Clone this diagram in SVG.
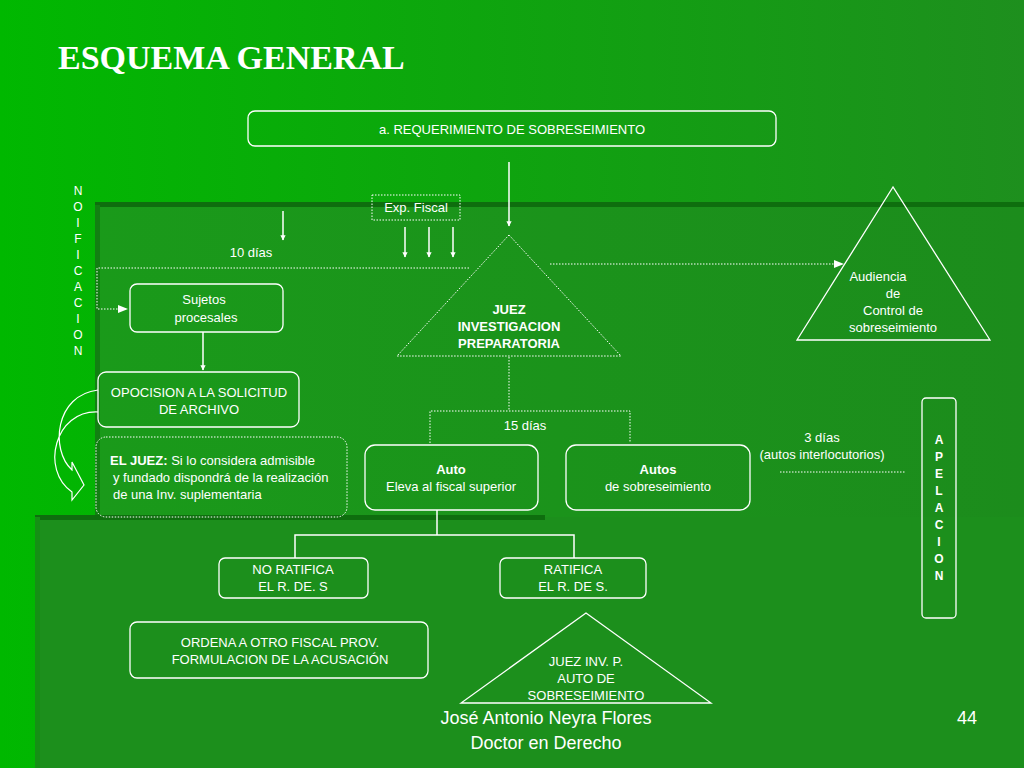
<svg xmlns="http://www.w3.org/2000/svg" width="1024" height="768" viewBox="0 0 1024 768">
<defs>
<linearGradient id="bg" x1="0" y1="0" x2="1" y2="0"><stop offset="0" stop-color="#00b800"/><stop offset="1" stop-color="#1e8f1e"/></linearGradient>
<linearGradient id="bg2" x1="0" y1="0" x2="1" y2="0"><stop offset="0" stop-color="#1a9a1a"/><stop offset="1" stop-color="#1c8c1c"/></linearGradient>
<marker id="ah" viewBox="0 0 10 10" refX="9" refY="5" markerWidth="3.5" markerHeight="4" orient="auto"><path d="M0,0 L10,5 L0,10 z" fill="#fff"/></marker>
</defs>
<style>
.t{font-family:"Liberation Sans",Arial,sans-serif;font-size:13px;fill:#fff;text-anchor:middle}
.s12{font-size:12px}
.s18{font-size:18px}
.b{font-weight:bold}
.box{fill:none;stroke:#fff;stroke-width:1.3}
.dot{fill:none;stroke:#fff;stroke-width:1;stroke-dasharray:1.5 1.5}
.ln{stroke:#fff;stroke-width:1.5;fill:none}
</style>
<rect width="1024" height="768" fill="url(#bg)"/>
<rect x="95" y="205" width="929" height="563" fill="url(#bg2)"/>
<rect x="95" y="202" width="929" height="5" fill="#0e6e0e"/>
<rect x="95" y="205" width="5" height="563" fill="#128012"/>
<rect x="35" y="517" width="989" height="251" fill="#1c8f1c"/>
<rect x="35" y="515" width="510" height="5" fill="#0e6e0e"/>
<rect x="35" y="517" width="5" height="251" fill="#159015"/>
<text x="58" y="69" font-family="Liberation Serif,serif" font-weight="bold" font-size="34" fill="#fff">ESQUEMA GENERAL</text>

<g id="connectors">
<line class="ln" x1="283" y1="211" x2="283" y2="240" marker-end="url(#ah)"/>
<line class="ln" x1="405" y1="227" x2="405" y2="257" marker-end="url(#ah)"/>
<line class="ln" x1="429" y1="227" x2="429" y2="257" marker-end="url(#ah)"/>
<line class="ln" x1="453" y1="227" x2="453" y2="257" marker-end="url(#ah)"/>
<line class="ln" x1="509" y1="162" x2="509" y2="226" marker-end="url(#ah)"/>
<path class="dot" d="M469,268 H97 V309 H126"/>
<path d="M118,305 L128,309 L118,313 z" fill="#fff"/>
<path class="dot" d="M550,264 H840"/>
<path d="M834,260 L844,264 L834,268 z" fill="#fff"/>
<line class="ln" x1="203" y1="332" x2="203" y2="370" marker-end="url(#ah)"/>
<path class="dot" d="M509,357 V411 M430,443 V411 H630 V443"/>
<path class="dot" d="M780,472 H905"/>
<path class="ln" d="M437,510 V535 M295,558 V535 H574 V558"/>
<path d="M98,390 C55,395 50,450 72,470 L72,462 L84,485 L72,500 L72,492 C40,470 55,410 98,412" fill="none" stroke="#fff" stroke-width="1.2"/>
</g>

<g id="n-req"><rect class="box" x="248" y="111" width="528" height="35" rx="7"/><text class="t" x="512" y="134">a. REQUERIMIENTO DE SOBRESEIMIENTO</text></g>
<g id="n-notif"><text class="t s12"><tspan x="78" y="195">N</tspan><tspan x="78" y="211">O</tspan><tspan x="78" y="227">I</tspan><tspan x="78" y="243">F</tspan><tspan x="78" y="259">I</tspan><tspan x="78" y="275">C</tspan><tspan x="78" y="291">A</tspan><tspan x="78" y="307">C</tspan><tspan x="78" y="323">I</tspan><tspan x="78" y="339">O</tspan><tspan x="78" y="355">N</tspan></text></g>
<g id="n-exp"><rect class="dot" x="372" y="195" width="88" height="25"/><text class="t" x="416" y="212">Exp. Fiscal</text></g>
<text class="t" x="251" y="257">10 días</text>
<g id="n-juez"><polygon class="dot" points="509,235 397,356 621,356"/><text class="t b" x="509" y="314">JUEZ</text><text class="t b" x="509" y="331">INVESTIGACION</text><text class="t b" x="509" y="348">PREPARATORIA</text></g>
<g id="n-aud"><polygon class="box" points="893,187 797,340 990,340"/><text class="t" x="878" y="281">Audiencia</text><text class="t" x="893" y="298">de</text><text class="t" x="893" y="315">Control de</text><text class="t" x="893" y="332">sobreseimiento</text></g>
<g id="n-suj"><rect class="box" x="130" y="284" width="153" height="48" rx="7"/><text class="t" x="204" y="304">Sujetos</text><text class="t" x="206" y="322">procesales</text></g>
<g id="n-opo"><rect class="box" x="98" y="372" width="201" height="55" rx="8"/><text class="t" x="199" y="397">OPOCISION A LA SOLICITUD</text><text class="t" x="199" y="414">DE ARCHIVO</text></g>
<g id="n-ejuez"><rect class="dot" x="96" y="437" width="251" height="80" rx="10"/><text class="t" style="text-anchor:start" x="110" y="465"><tspan font-weight="bold">EL JUEZ:</tspan> Si lo considera admisible</text><text class="t" style="text-anchor:start" x="113" y="482">y fundado dispondrá de la realización</text><text class="t" style="text-anchor:start" x="113" y="499">de una Inv. suplementaria</text></g>
<text class="t" x="525" y="430">15 días</text>
<g id="n-auto"><rect class="box" x="365" y="445" width="173" height="65" rx="10"/><text class="t b" x="451" y="474">Auto</text><text class="t" x="451" y="491">Eleva al fiscal superior</text></g>
<g id="n-autos"><rect class="box" x="566" y="445" width="184" height="65" rx="10"/><text class="t b" x="658" y="474">Autos</text><text class="t" x="658" y="491">de sobreseimiento</text></g>
<text class="t" x="822" y="442">3 días</text><text class="t" x="822" y="459">(autos interlocutorios)</text>
<g id="n-apel"><rect class="box" x="922" y="398" width="34" height="220" rx="4"/><text class="t b s12"><tspan x="939" y="444">A</tspan><tspan x="939" y="461">P</tspan><tspan x="939" y="478">E</tspan><tspan x="939" y="495">L</tspan><tspan x="939" y="512">A</tspan><tspan x="939" y="529">C</tspan><tspan x="939" y="546">I</tspan><tspan x="939" y="563">O</tspan><tspan x="939" y="580">N</tspan></text></g>
<g id="n-noratif"><rect class="box" x="219" y="558" width="149" height="40" rx="6"/><text class="t" x="293" y="574">NO RATIFICA</text><text class="t" x="293" y="591">EL R. DE. S</text></g>
<g id="n-ratif"><rect class="box" x="500" y="558" width="146" height="40" rx="6"/><text class="t" x="573" y="574">RATIFICA</text><text class="t" x="573" y="591">EL R. DE S.</text></g>
<g id="n-ordena"><rect class="box" x="130" y="622" width="298" height="56" rx="7"/><text class="t" x="280" y="647">ORDENA A OTRO FISCAL PROV.</text><text class="t" x="280" y="664">FORMULACION DE LA ACUSACIÓN</text></g>
<g id="n-juezinv"><polygon class="box" points="586,613 461,703 711,703"/><text class="t" x="586" y="666">JUEZ INV. P.</text><text class="t" x="586" y="683">AUTO DE</text><text class="t" x="586" y="700">SOBRESEIMIENTO</text></g>
<text class="t s18" x="546" y="724">José Antonio Neyra Flores</text>
<text class="t s18" x="546" y="749">Doctor en Derecho</text>
<text class="t s18" x="967" y="724">44</text>
</svg>
